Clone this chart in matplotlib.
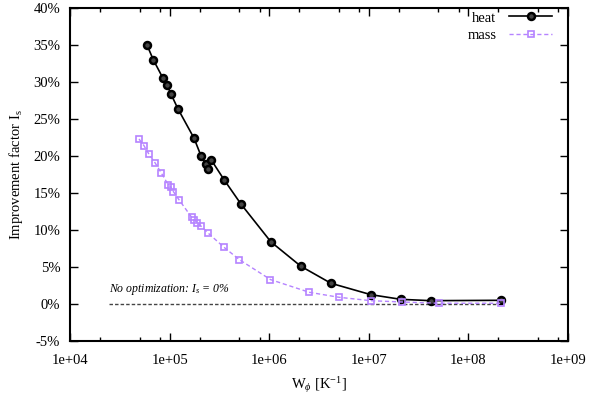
import matplotlib
matplotlib.use("Agg")
import matplotlib.pyplot as plt
from matplotlib.ticker import FixedLocator, FuncFormatter
import numpy as np

# Improvement factor vs. W_phi, heat and mass transfer
heat_w = [5.93e4, 6.86e4, 8.59e4, 9.42e4, 1.03e5, 1.21e5, 1.76e5, 2.07e5,
          2.32e5, 2.43e5, 2.61e5, 3.52e5, 5.21e5, 1.04e6, 2.08e6, 4.17e6,
          1.05e7, 2.1e7, 4.2e7, 2.12e8]
heat_is = [35.0, 33.0, 30.5, 29.6, 28.4, 26.4, 22.4, 20.0,
           18.9, 18.2, 19.5, 16.8, 13.5, 8.4, 5.1, 2.8,
           1.26, 0.63, 0.45, 0.5]

mass_w = [4.93e4, 5.53e4, 6.17e4, 7.13e4, 8.26e4, 9.7e4, 1.03e5, 1.09e5,
          1.24e5, 1.67e5, 1.77e5, 1.88e5, 2.08e5, 2.43e5, 3.49e5, 5.01e5,
          1.03e6, 2.53e6, 5.06e6, 1.05e7, 2.14e7, 5.1e7, 2.12e8]
mass_is = [22.3, 21.4, 20.3, 19.1, 17.7, 16.1, 15.8, 15.2,
           14.1, 11.7, 11.4, 11.0, 10.5, 9.6, 7.7, 6.0,
           3.3, 1.58, 0.9, 0.45, 0.27, 0.1, 0.1]

ref_w = [2.46e4, 2.12e8]
ref_is = [0.0, 0.0]

y_ticks = list(range(-5, 45, 5))
x_ticks = [1e4, 1e5, 1e6, 1e7, 1e8, 1e9]

plt.rcParams['font.family'] = ['Liberation Serif', 'DejaVu Serif']
plt.rcParams['mathtext.fontset'] = 'custom'
plt.rcParams['mathtext.rm'] = 'Liberation Serif'
plt.rcParams['mathtext.it'] = 'Liberation Serif:italic'

fig = plt.figure(figsize=(5.89, 3.97), dpi=100)
ax = fig.add_axes([70 / 589, 1 - 341 / 397, 498 / 589, 333 / 397])

purple = '#b583ff'

ax.plot(ref_w, ref_is, color='#444444', ls=(0, (2.5, 1.5)), lw=1.0)
ax.text(2.46e4, 0.9, r'No optimization: $I_s$ = 0%', style='italic',
        fontsize=8.5, ha='left', va='bottom')

ax.plot(heat_w, heat_is, color='black', lw=1.2, marker='o', ms=5,
        mfc='#444444', mec='black', mew=1.8, label='heat')
ax.plot(mass_w, mass_is, color=purple, lw=1.0, ls=(0, (3, 2)),
        marker='s', ms=4.5, mfc='none', mec=purple, mew=1.2, label='mass')

ax.set_xscale('log')
ax.set_xlim(1e4, 1e9)
ax.set_ylim(-5, 40)

ax.xaxis.set_major_locator(FixedLocator(x_ticks))
minors = [m * 10.0 ** e for e in range(4, 9) for m in (2, 5, 8)]
ax.xaxis.set_minor_locator(FixedLocator(minors))
ax.xaxis.set_major_formatter(FuncFormatter(lambda v, p: '1e+%02d' % round(np.log10(v))))
ax.xaxis.set_minor_formatter(FuncFormatter(lambda v, p: ''))
ax.set_yticks(y_ticks)
ax.yaxis.set_major_formatter(FuncFormatter(lambda v, p: '%d%%' % v))

ax.tick_params(which='both', direction='in', top=True, right=True,
               labelsize=10.5)
ax.tick_params(axis='x', pad=9)
ax.tick_params(axis='y', pad=7)
ax.tick_params(which='major', length=6, width=1)
ax.tick_params(which='minor', length=3, width=1)
for s in ax.spines.values():
    s.set_linewidth(1.5)

ax.set_xlabel(r'W$_\phi$ [K$^{-1}$]', fontsize=10.5, labelpad=6)
ax.set_ylabel(r'Improvement factor I$_\mathrm{s}$', fontsize=10.5, labelpad=6)

ax.legend(loc='upper right', bbox_to_anchor=(0.982, 1.012), frameon=False,
          markerfirst=False, fontsize=10.5, handlelength=2.9,
          borderaxespad=0.2, labelspacing=0.3, handletextpad=0.9,
          borderpad=0.3)

fig.savefig('out.png', dpi=100)
